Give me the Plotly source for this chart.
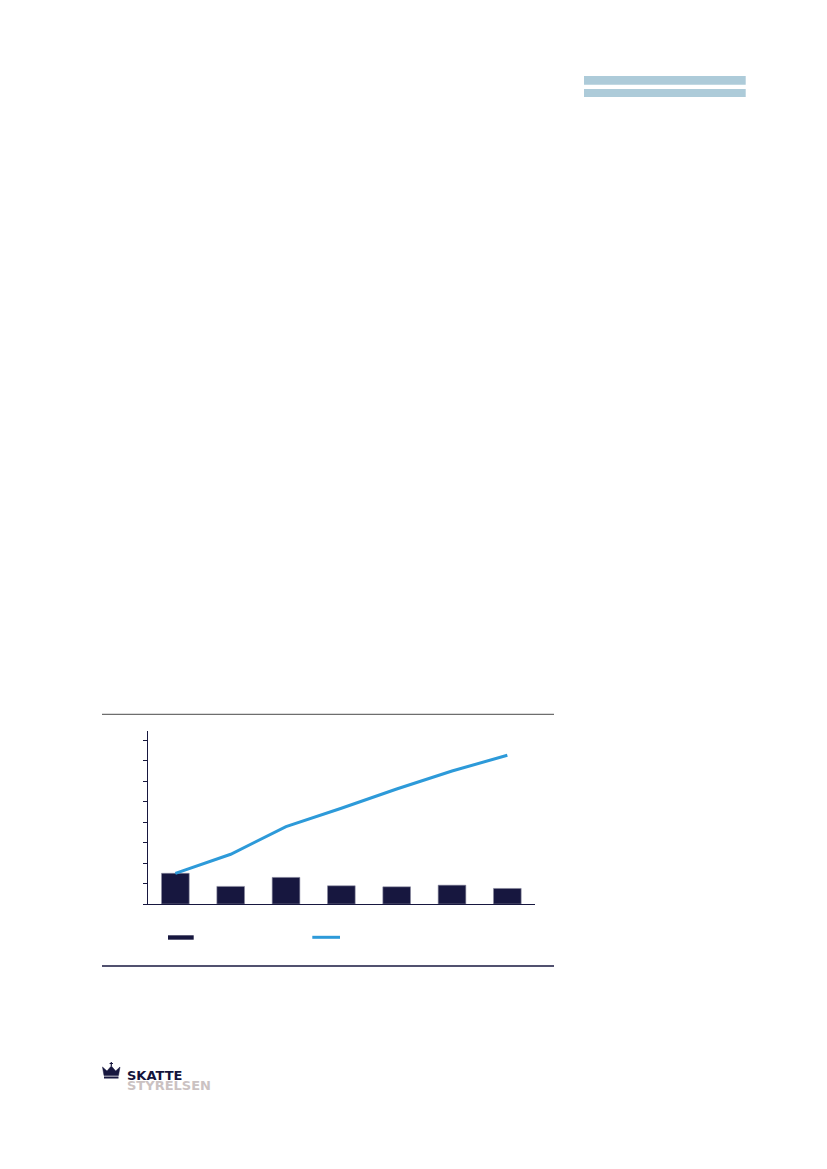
import plotly.graph_objects as go

# data (no tick labels are printed in it)
kategorier = ["1", "2", "3", "4", "5", "6", "7"]
soejler = [1.50, 0.86, 1.30, 0.89, 0.84, 0.92, 0.76]
linje = [1.50, 2.43, 3.78, 4.68, 5.62, 6.50, 7.27]
y_ticks = [0, 1, 2, 3, 4, 5, 6, 7, 8]

# the page body has an 8 px margin, so the figure is drawn 16 px smaller
OFF = 8
W, H = 827 - 2 * OFF, 1169 - 2 * OFF
NAVY = "#17173f"
BLAA = "#2d9ad9"
LYSBLAA = "#adcbd9"


def px(x):
    return (x - OFF) / W


def py(y):
    return 1 - (y - OFF) / H


fig = go.Figure()

fig.add_trace(go.Bar(
    x=kategorier,
    y=soejler,
    width=0.5,
    marker=dict(color=NAVY, line=dict(color="#8a8aa0", width=0.6)),
    showlegend=False,
))

fig.add_trace(go.Scatter(
    x=kategorier,
    y=linje,
    mode="lines",
    line=dict(color=BLAA, width=3),
    showlegend=False,
))

fig.update_xaxes(
    domain=[px(147.7), px(535)],
    range=[-0.5, 6.5],
    showticklabels=False,
    ticks="",
    showgrid=False,
    zeroline=False,
    showline=True,
    linecolor=NAVY,
    linewidth=1.3,
)
fig.update_yaxes(
    domain=[py(904), py(730.7)],
    range=[0, 8.47],
    tickvals=y_ticks,
    showticklabels=False,
    ticks="outside",
    ticklen=4,
    tickwidth=1,
    tickcolor=NAVY,
    showgrid=False,
    zeroline=False,
    showline=True,
    linecolor=NAVY,
    linewidth=1.3,
)

shapes = [
    # header bars top right
    dict(type="rect", xref="paper", yref="paper", x0=px(584), x1=px(745.7),
         y0=py(84.7), y1=py(76), fillcolor=LYSBLAA, line=dict(width=0)),
    dict(type="rect", xref="paper", yref="paper", x0=px(584), x1=px(745.7),
         y0=py(97), y1=py(89), fillcolor=LYSBLAA, line=dict(width=0)),
    # rules around the chart
    dict(type="line", xref="paper", yref="paper", x0=px(102), x1=px(554),
         y0=py(714.3), y1=py(714.3), line=dict(color="#6e6e6e", width=1.3)),
    dict(type="line", xref="paper", yref="paper", x0=px(102), x1=px(554),
         y0=py(966), y1=py(966), line=dict(color=NAVY, width=1.3)),
    # legend swatches
    dict(type="rect", xref="paper", yref="paper", x0=px(168), x1=px(193.7),
         y0=py(939.7), y1=py(935.3), fillcolor=NAVY, line=dict(width=0)),
    dict(type="line", xref="paper", yref="paper", x0=px(312.3), x1=px(340),
         y0=py(937.3), y1=py(937.3), line=dict(color=BLAA, width=3)),
]

# crown of the logo
krone = [(104, 1075.5), (102.5, 1067), (107, 1071), (111.3, 1066), (115.7, 1071),
         (120, 1067), (118.5, 1075.5)]
sti = "M " + " L ".join(f"{px(a):.5f},{py(b):.5f}" for a, b in krone) + " Z"
shapes.append(dict(type="path", xref="paper", yref="paper", path=sti,
                   fillcolor=NAVY, line=dict(color=NAVY, width=0.5)))
shapes.append(dict(type="rect", xref="paper", yref="paper", x0=px(104), x1=px(118.5),
                   y0=py(1078.5), y1=py(1076.5), fillcolor=NAVY, line=dict(width=0)))
shapes.append(dict(type="line", xref="paper", yref="paper", x0=px(111.3), x1=px(111.3),
                   y0=py(1066), y1=py(1062), line=dict(color=NAVY, width=1.2)))
shapes.append(dict(type="line", xref="paper", yref="paper", x0=px(109.6), x1=px(113),
                   y0=py(1063.5), y1=py(1063.5), line=dict(color=NAVY, width=1)))

annotations = [
    dict(text="<b>SKATTE</b>", xref="paper", yref="paper", x=px(125.5), y=py(1075),
         xanchor="left", yanchor="middle", showarrow=False, height=10, borderpad=0,
         font=dict(family="DejaVu Sans", size=13, color="#14143c")),
    dict(text="<b>STYRELSEN</b>", xref="paper", yref="paper", x=px(125.5), y=py(1085.2),
         xanchor="left", yanchor="middle", showarrow=False, height=10, borderpad=0,
         font=dict(family="DejaVu Sans", size=13, color="#cbc2c2")),
]

fig.update_layout(
    width=W,
    height=H,
    margin=dict(l=0, r=0, t=0, b=0),
    paper_bgcolor="white",
    plot_bgcolor="white",
    shapes=shapes,
    annotations=annotations,
    showlegend=False,
)

fig.write_html("out.html")
